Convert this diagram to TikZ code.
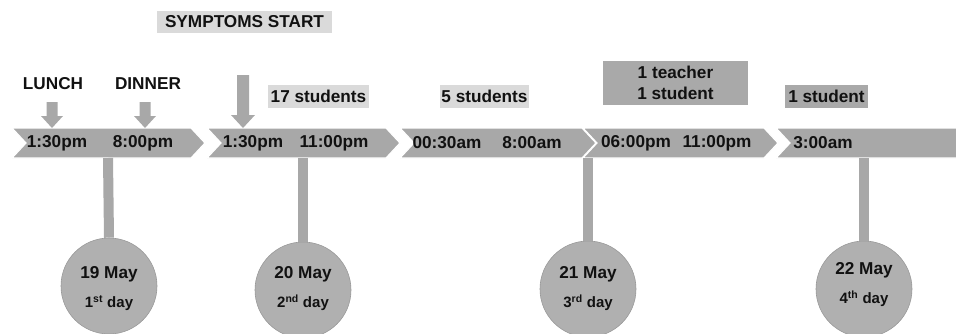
\documentclass[tikz,border=0pt]{standalone}
\usepackage{fontspec}
\setmainfont{Liberation Sans}
\definecolor{chev}{HTML}{A8A8A8}
\definecolor{lightbox}{HTML}{DADADA}
\definecolor{darkbox}{HTML}{A9A9A9}
\definecolor{circfill}{HTML}{B0B0B0}
\definecolor{circline}{HTML}{999999}
\definecolor{txt}{HTML}{111111}
\newcommand\chevshape[2]{\fill[chev,draw=white,line width=1.2pt] (#1,128) -- (#2-14,128) -- (#2,143) -- (#2-14,158) -- (#1,158) -- (#1+14,143) -- cycle;}
\newcommand\blockarrow[4]{% center x, top y, head y, tip y
  \fill[chev] (#1-5.5,#2) -- (#1+5.5,#2) -- (#1+5.5,#3) -- (#1+11,#3) -- (#1,#4) -- (#1-11,#3) -- (#1-5.5,#3) -- cycle;}
\begin{document}
\begin{tikzpicture}[x=1pt,y=-1pt,
  font=\fontsize{17.2}{20}\selectfont\bfseries,
  txtnode/.style={inner sep=0pt,text=txt},
  boxnode/.style={inner sep=0pt,text=txt,align=center},
  lbox/.style={boxnode,fill=lightbox},
  dbox/.style={boxnode,fill=darkbox},
  daycirc/.style={circle,fill=circfill,draw=circline,line width=0.6pt,minimum size=96pt,inner sep=0pt},
  stemline/.style={draw=chev,line width=10pt},
  maytext/.style={txtnode,font=\fontsize{17.2}{20}\selectfont\bfseries},
  daytext/.style={txtnode,font=\fontsize{15}{18}\selectfont\bfseries}]
\useasboundingbox (0,0) rectangle (956,333);

% chevrons
\chevshape{12}{205}
\chevshape{207}{400}
\chevshape{400}{596}
\chevshape{583}{778}
\fill[chev,draw=white,line width=1.2pt] (776,128) -- (957,128) -- (957,158) -- (776,158) -- (790,143) -- cycle;

% stems
\coordinate (s1) at (108,158);
\coordinate (s2) at (303,158);
\coordinate (s3) at (588,158);
\coordinate (s4) at (864,158);
\node[daycirc] (c1) at (109,286) {};
\node[daycirc] (c2) at (303,290) {};
\node[daycirc] (c3) at (588,289) {};
\node[daycirc] (c4) at (864,289) {};
\draw[stemline] (s1) -- (c1.north);
\draw[stemline] (s2) -- (c2.north);
\draw[stemline] (s3) -- (c3.north);
\draw[stemline] (s4) -- (c4.north);

% circle texts
\node[maytext] (m1) at (109,274) {19 May};
\node[daytext] (d1) at (109,303) {1\textsuperscript{st} day};
\node[maytext] (m2) at (303,274) {20 May};
\node[daytext] (d2) at (303,303) {2\textsuperscript{nd} day};
\node[maytext] (m3) at (588,274) {21 May};
\node[daytext] (d3) at (588,303) {3\textsuperscript{rd} day};
\node[maytext] (m4) at (864,270) {22 May};
\node[daytext] (d4) at (864,299) {4\textsuperscript{th} day};

% times
\node[txtnode] (t1) at (57,143) {1:30pm};
\node[txtnode] (t2) at (143,143) {8:00pm};
\node[txtnode] (t3) at (253,143) {1:30pm};
\node[txtnode] (t4) at (334,143) {11:00pm};
\node[txtnode] (t5) at (447,143) {00:30am};
\node[txtnode] (t6) at (532,143) {8:00am};
\node[txtnode] (t7) at (636,143) {06:00pm};
\node[txtnode] (t8) at (717,143) {11:00pm};
\node[txtnode] (t9) at (823,143) {3:00am};

% meals
\node[txtnode] (lunch) at (53,84) {LUNCH};
\node[txtnode] (dinner) at (148,84) {DINNER};
\blockarrow{52}{102}{116}{128}
\blockarrow{145}{102}{116}{128}
\fill[chev] (237,75) -- (249,75) -- (249,115) -- (255,115) -- (243,128) -- (231,115) -- (237,115) -- cycle;

% boxes
\node[lbox,minimum width=175pt,minimum height=22pt] (symp) at (244.5,22) {SYMPTOMS START};
\node[lbox,minimum width=101pt,minimum height=23pt] (b17) at (318.5,96.5) {17 students};
\node[lbox,minimum width=89pt,minimum height=23pt] (b5) at (484.5,96.5) {5 students};
\node[dbox,minimum width=145pt,minimum height=44pt] (bt) at (675.5,83) {1 teacher\\[1pt]1 student};
\node[dbox,minimum width=83pt,minimum height=23pt] (b1) at (826.5,96.5) {1 student};
\end{tikzpicture}
\end{document}
